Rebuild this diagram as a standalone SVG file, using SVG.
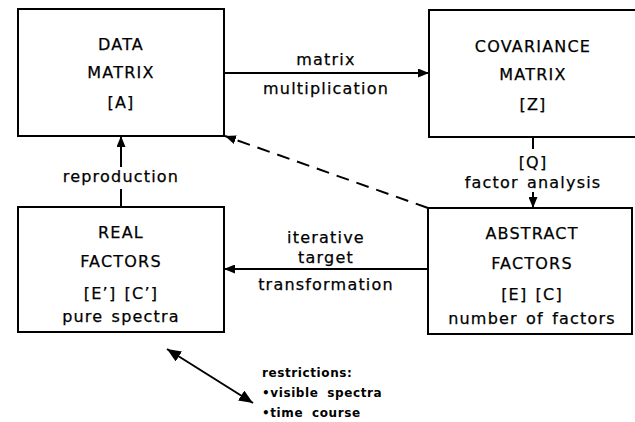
<svg xmlns="http://www.w3.org/2000/svg" width="635" height="422" viewBox="0 0 635 422">
  <defs>
    <marker id="head" viewBox="0 0 11 9" refX="11" refY="4.5" markerWidth="11" markerHeight="9" markerUnits="userSpaceOnUse" orient="auto-start-reverse">
      <path d="M0,0 L11,4.5 L0,9 Z" fill="#000"/>
    </marker>
    <marker id="headBig" viewBox="0 0 13 11" refX="13" refY="5.5" markerWidth="14" markerHeight="12" markerUnits="userSpaceOnUse" orient="auto-start-reverse">
      <path d="M0,0 L13,5.5 L0,11 Z" fill="#000"/>
    </marker>
  </defs>
  <style>
    .box { fill: #fff; stroke: #000; stroke-width: 2; }
    .t { font-family: "DejaVu Sans", sans-serif; font-size: 16px; letter-spacing: 1.2px; word-spacing: 2px; text-anchor: middle; fill: #000; stroke: #000; stroke-width: 0.25; }
    .s { font-family: "DejaVu Sans", sans-serif; font-size: 12px; font-weight: bold; letter-spacing: 0.6px; word-spacing: 4px; fill: #000; }
    .ln { stroke: #000; stroke-width: 2; fill: none; }
  </style>
  <rect width="635" height="422" fill="#fff"/>

  <g id="connectors">
    <!-- matrix multiplication -->
    <line class="ln" x1="224" y1="73" x2="429" y2="73" marker-end="url(#head)"/>
    <!-- factor analysis -->
    <line class="ln" x1="533" y1="137" x2="533" y2="149"/>
    <line class="ln" x1="533" y1="192" x2="533" y2="208" marker-end="url(#head)"/>
    <!-- iterative target transformation -->
    <line class="ln" x1="428" y1="269" x2="224" y2="269" marker-end="url(#head)"/>
    <!-- reproduction -->
    <line class="ln" x1="121" y1="207" x2="121" y2="189"/>
    <line class="ln" x1="121" y1="167" x2="121" y2="136" marker-end="url(#head)"/>
    <!-- dashed feedback -->
    <line class="ln" x1="428" y1="208" x2="225" y2="136" stroke-dasharray="13,8" marker-end="url(#head)"/>
    <!-- restrictions double arrow -->
    <line class="ln" x1="167" y1="349" x2="253" y2="403" marker-start="url(#headBig)" marker-end="url(#headBig)"/>
    <text class="t" x="326" y="65">matrix</text>
    <text class="t" x="326" y="94">multiplication</text>
    <text class="t" x="533" y="168">[Q]</text>
    <text class="t" x="533" y="188">factor analysis</text>
    <text class="t" x="326" y="243">iterative</text>
    <text class="t" x="326" y="263">target</text>
    <text class="t" x="326" y="290">transformation</text>
    <text class="t" x="121" y="182">reproduction</text>
  </g>

  <g id="data-matrix">
    <rect class="box" x="18" y="9" width="206" height="127"/>
    <text class="t" x="121" y="50">DATA</text>
    <text class="t" x="121" y="78">MATRIX</text>
    <text class="t" x="121" y="108">[A]</text>
  </g>

  <g id="covariance-matrix">
    <rect class="box" x="429" y="10" width="220" height="127"/>
    <text class="t" x="533" y="52">COVARIANCE</text>
    <text class="t" x="533" y="80">MATRIX</text>
    <text class="t" x="533" y="110">[Z]</text>
  </g>

  <g id="real-factors">
    <rect class="box" x="18" y="207" width="206" height="125"/>
    <text class="t" x="121" y="238">REAL</text>
    <text class="t" x="121" y="267">FACTORS</text>
    <text class="t" x="121" y="299">[E’] [C’]</text>
    <text class="t" x="121" y="322">pure spectra</text>
  </g>

  <g id="abstract-factors">
    <rect class="box" x="428" y="208" width="204" height="126"/>
    <text class="t" x="532" y="239">ABSTRACT</text>
    <text class="t" x="532" y="269">FACTORS</text>
    <text class="t" x="532" y="300">[E] [C]</text>
    <text class="t" x="532" y="324">number of factors</text>
  </g>

  <g id="restrictions">
    <text class="s" x="262" y="377">restrictions:</text>
    <text class="s" x="262" y="397">•visible spectra</text>
    <text class="s" x="262" y="417">•time course</text>
  </g>
</svg>
